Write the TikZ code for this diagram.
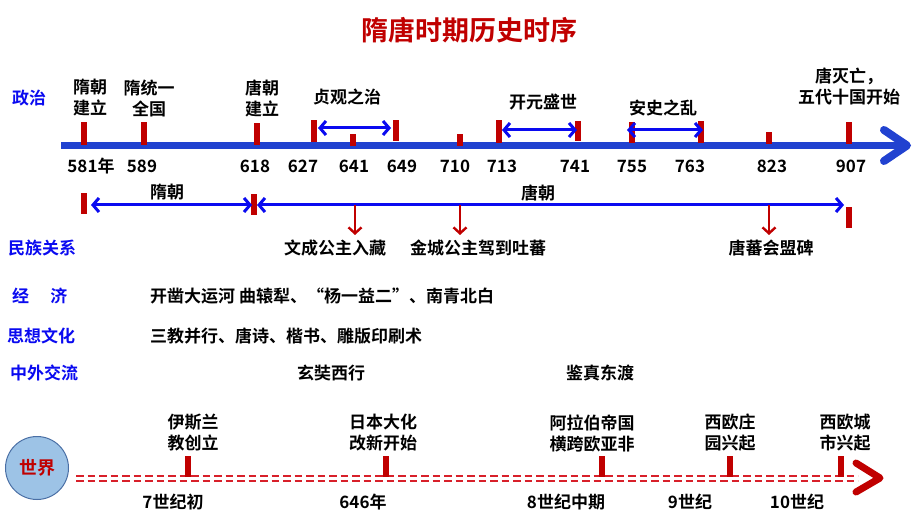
\documentclass[tikz,border=0pt]{standalone}
\usepackage{fontspec}
\setmainfont{Noto Sans CJK SC}[BoldFont={Noto Sans CJK SC Bold}]
\usetikzlibrary{arrows.meta}
\definecolor{tred}{HTML}{C00000}
\definecolor{mblue}{HTML}{2142D0}
\definecolor{pblue}{HTML}{0A0AF0}
\definecolor{cfill}{HTML}{9DC3E6}
\definecolor{cedge}{HTML}{4A6FA5}
\definecolor{dred}{HTML}{D8202A}
\tikzset{
 lbl/.style={font=\fontsize{17}{21}\selectfont\bfseries, align=center, inner sep=0pt, text=black},
 cat/.style={font=\fontsize{17}{20}\selectfont\bfseries, text=pblue, inner sep=0pt, anchor=west},
 yr/.style={font=\fontsize{17}{20}\selectfont\bfseries, inner sep=0pt, text=black},
 dbl/.style={draw=pblue, line width=3pt, {Straight Barb[length=6pt,width=14pt]}-{Straight Barb[length=6pt,width=14pt]}},
 downarr/.style={draw=tred, line width=2.4pt, -{Straight Barb[length=6pt,width=13pt]}},
 dline/.style={draw=dred, line width=2.3pt, dash pattern=on 7.5pt off 4pt},
}
\newcommand\tkbar[3]{\fill[tred] ({#1-3.2},#2) rectangle ({#1+3.2},#3);}
\begin{document}
\begin{tikzpicture}[x=1pt,y=-1pt]
\useasboundingbox (0,0) rectangle (920,518);
% title
\node[font=\fontsize{27}{30}\selectfont\bfseries, text=tred, inner sep=0pt] (title) at (469,30) {隋唐时期历史时序};
% categories
\node[cat] (c1) at (12,98) {政治};
\node[cat] (c2) at (8,248) {民族关系};
\node[cat] (c3) at (12,296) {经\hspace{1.25em}济};
\node[cat] (c4) at (7,336) {思想文化};
\node[cat] (c5) at (10,373) {中外交流};
% main time line
\coordinate (ms) at (61,145.5);
\coordinate (me) at (907,145.5);
\coordinate (ma) at (884,130);
\coordinate (mb) at (884,161);
\draw[mblue, line width=7.5pt] (ms) -- (me);
\draw[mblue, line width=8pt, line cap=round, line join=round] (ma) -- (me) -- (mb);
% ticks
\tkbar{84}{122}{145}
\tkbar{144}{122}{145}
\tkbar{257}{123}{145}
\tkbar{314}{120}{142}
\tkbar{353}{134}{146}
\tkbar{396}{120}{141}
\tkbar{460}{134}{146}
\tkbar{499}{120}{143}
\tkbar{578}{121}{141}
\tkbar{632}{122}{143}
\tkbar{701}{121}{143}
\tkbar{769}{132}{144}
\tkbar{849}{122}{144}
% years
\node[yr] (y581) at (91,166) {581年};
\node[yr] (y589) at (142,166) {589};
\node[yr] (y618) at (255,166) {618};
\node[yr] (y627) at (303,166) {627};
\node[yr] (y641) at (354,166) {641};
\node[yr] (y649) at (402,166) {649};
\node[yr] (y710) at (455,166) {710};
\node[yr] (y713) at (502,166) {713};
\node[yr] (y741) at (575,166) {741};
\node[yr] (y755) at (632,166) {755};
\node[yr] (y763) at (690,166) {763};
\node[yr] (y823) at (772,166) {823};
\node[yr] (y907) at (851,166) {907};
% top labels
\node[lbl] (t1) at (90,98) {隋朝\\建立};
\node[lbl] (t2) at (149,98) {隋统一\\全国};
\node[lbl] (t3) at (262,98) {唐朝\\建立};
\node[lbl] (t4) at (347,97) {贞观之治};
\node[lbl] (t5) at (543,102) {开元盛世};
\node[lbl] (t6) at (663,108) {安史之乱};
\node[lbl] (t7) at (849,87) {唐灭亡，\\五代十国开始};
% period arrows
\coordinate (zg1) at (318,128); \coordinate (zg2) at (391,128);
\coordinate (ky1) at (502,130); \coordinate (ky2) at (577,130);
\coordinate (as1) at (627,130); \coordinate (as2) at (703,130);
\draw[dbl] (zg1) -- (zg2);
\draw[dbl] (ky1) -- (ky2);
\draw[dbl] (as1) -- (as2);
% dynasty row
\tkbar{84}{193}{214}
\tkbar{254}{194}{215}
\tkbar{849}{207}{228}
\coordinate (sui1) at (91,205); \coordinate (sui2) at (252,205);
\coordinate (tang1) at (257,205); \coordinate (tang2) at (844,205);
\draw[dbl] (sui1) -- (sui2);
\draw[dbl] (tang1) -- (tang2);
\node[lbl] (sui) at (167,192) {隋朝};
\node[lbl] (tang) at (538,193) {唐朝};
% ethnic relations
\node[lbl] (e1) at (335,248) {文成公主入藏};
\node[lbl] (e2) at (478,248) {金城公主驾到吐蕃};
\node[lbl] (e3) at (771,248) {唐蕃会盟碑};
\coordinate (d1) at (355,205); \coordinate (d2) at (460,205); \coordinate (d3) at (769,205);
\coordinate (d1e) at (355,235); \coordinate (d2e) at (460,235); \coordinate (d3e) at (769,235);
\draw[downarr] (d1) -- (d1e);
\draw[downarr] (d2) -- (d2e);
\draw[downarr] (d3) -- (d3e);
% economy etc
\node[lbl, anchor=west] (econ) at (150,296) {开凿大运河 曲辕犁、“杨一益二”、南青北白};
\node[lbl, anchor=west] (cult) at (150,336) {三教并行、唐诗、楷书、雕版印刷术};
\node[lbl] (x1) at (331,373) {玄奘西行};
\node[lbl] (x2) at (600,373) {鉴真东渡};
% world
\node[circle, draw=cedge, fill=cfill, line width=1pt, minimum size=63pt, inner sep=0pt, text=tred, font=\fontsize{18}{20}\selectfont\bfseries] (world) at (37,468) {世界};
\coordinate (w1) at (76,476); \coordinate (w2) at (858,476);
\coordinate (w3) at (76,481); \coordinate (w4) at (858,481);
\draw[dline] (w1) -- (w2);
\draw[dline] (w3) -- (w4);
\coordinate (wa) at (856,463); \coordinate (wt) at (880,478); \coordinate (wb) at (856,492);
\draw[tred, line width=7pt, line cap=round, line join=round] (wa) -- (wt) -- (wb);
\tkbar{188}{456}{477}
\tkbar{386}{456}{477}
\tkbar{602}{456}{477}
\tkbar{730}{456}{477}
\tkbar{841}{456}{477}
\node[lbl] (wl1) at (193,433) {伊斯兰\\教创立};
\node[lbl] (wl2) at (383,433) {日本大化\\改新开始};
\node[lbl] (wl3) at (592,433) {阿拉伯帝国\\横跨欧亚非};
\node[lbl] (wl4) at (730,433) {西欧庄\\园兴起};
\node[lbl] (wl5) at (845,433) {西欧城\\市兴起};
\node[lbl] (wy1) at (173,502) {7世纪初};
\node[lbl] (wy2) at (363,502) {646年};
\node[lbl] (wy3) at (566,502) {8世纪中期};
\node[lbl] (wy4) at (690,502) {9世纪};
\node[lbl] (wy5) at (797,502) {10世纪};
\end{tikzpicture}
\end{document}
